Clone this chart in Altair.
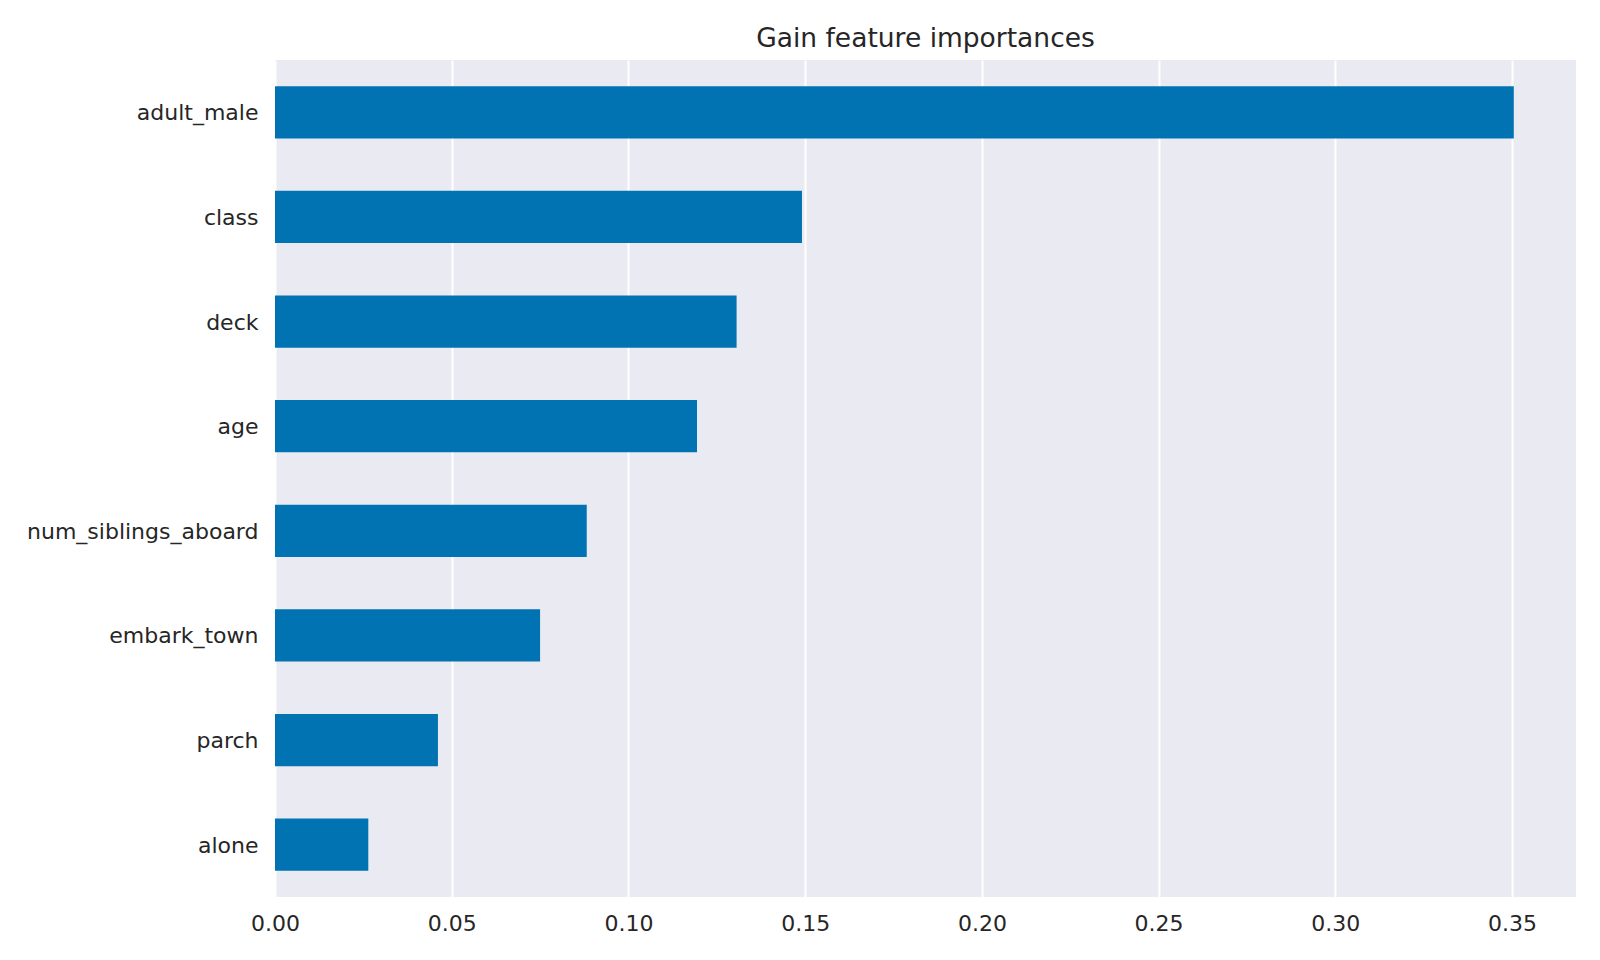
import altair as alt
import pandas as pd

features = ["adult_male", "class", "deck", "age", "num_siblings_aboard",
            "embark_town", "parch", "alone"]
importances = [0.3505, 0.1491, 0.1306, 0.1194, 0.0882, 0.0750, 0.0461, 0.0264]
tick_values = [0.0, 0.05, 0.10, 0.15, 0.20, 0.25, 0.30, 0.35]

df = pd.DataFrame({"feature": features, "importance": importances})

chart = alt.Chart(df).mark_bar(color="#0173B2").encode(
    x=alt.X("importance:Q",
            scale=alt.Scale(domain=[0, 0.3681], nice=False, zero=True),
            axis=alt.Axis(title=None, values=tick_values, format=".2f",
                          grid=True, gridColor="white", gridWidth=2,
                          gridOpacity=1,
                          ticks=False, domain=False, labelFontSize=22,
                          labelFont="DejaVu Sans", labelColor="#262626",
                          labelPadding=16, labelFlush=False)),
    y=alt.Y("feature:N", sort=features,
            scale=alt.Scale(paddingInner=0.5, paddingOuter=0.25),
            axis=alt.Axis(title=None, grid=False, ticks=False, domain=False,
                          labelFontSize=22, labelFont="DejaVu Sans",
                          labelColor="#262626", labelPadding=17,
                          labelLimit=0, labelOffset=1)),
).properties(
    width=1301,
    height=837,
    title=alt.TitleParams("Gain feature importances", fontSize=26.5,
                          font="DejaVu Sans", fontWeight="normal",
                          color="#262626", offset=8),
    autosize=alt.AutoSizeParams(type="none"),
    padding={"left": 267, "top": 52, "right": 16, "bottom": 55},
    background="white",
).configure_view(
    fill="#EAEAF2", stroke=None
)

chart.save("out.html", embed_options={"renderer": "svg", "actions": False})
